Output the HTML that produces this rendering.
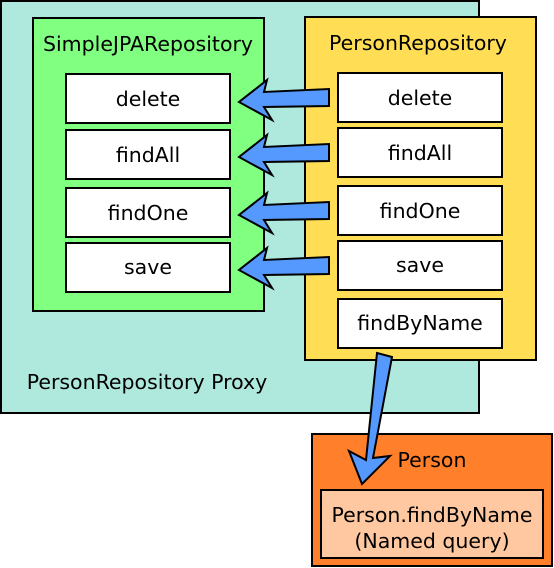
<!DOCTYPE html>
<html><head><style>body{margin:0;background:#fff}svg{display:block}text{font-family:"DejaVu Sans",sans-serif;font-size:20.5px}</style></head><body>
<svg width="554" height="568" xmlns="http://www.w3.org/2000/svg">
<rect x="1" y="1" width="478" height="412" fill="#afe9dd" stroke="#000" stroke-width="2"/>
<rect x="33" y="18" width="231" height="293" fill="#80ff80" stroke="#000" stroke-width="2"/>
<rect x="305" y="17" width="231" height="343" fill="#ffdd55" stroke="#000" stroke-width="2"/>
<text x="148" y="51" text-anchor="middle">SimpleJPARepository</text>
<text x="418" y="50" text-anchor="middle">PersonRepository</text>
<text x="147" y="389" text-anchor="middle">PersonRepository Proxy</text>
<g fill="#fff" stroke="#000" stroke-width="2">
<rect x="66" y="74" width="164" height="49"/><rect x="66" y="130" width="164" height="49"/>
<rect x="66" y="188" width="164" height="49"/><rect x="66" y="243" width="164" height="49"/>
<rect x="338" y="73" width="164" height="49"/><rect x="338" y="128" width="164" height="49"/>
<rect x="338" y="186" width="164" height="49"/><rect x="338" y="241" width="164" height="49"/>
<rect x="338" y="299" width="164" height="49"/>
</g>
<g text-anchor="middle">
<text x="148" y="106">delete</text><text x="148" y="162">findAll</text>
<text x="148" y="220">findOne</text><text x="148" y="274">save</text>
<text x="420" y="105">delete</text><text x="420" y="160">findAll</text>
<text x="420" y="218">findOne</text><text x="420" y="272">save</text>
<text x="420" y="330">findByName</text>
</g>
<g fill="#5599ff" stroke="#000" stroke-width="2" stroke-linejoin="miter">
<path id="a" d="M329,89 L329,106 L264,107 L272,120 L239,102 L267,80 L264,92 Z"/>
<use href="#a" y="55"/><use href="#a" y="113"/><use href="#a" y="168"/>
</g>
<rect x="312" y="434" width="240" height="132" fill="#ff7f2a" stroke="#000" stroke-width="2"/>
<rect x="321" y="490" width="222" height="68" fill="#ffc8a0" stroke="#000" stroke-width="2"/>
<text x="432" y="467" text-anchor="middle">Person</text>
<text x="432" y="522" text-anchor="middle">Person.findByName</text>
<text x="432" y="548" text-anchor="middle">(Named query)</text>
<path d="M377,353 L392,357 L373,458 L390,456 L362,484 L349,451 L366,460 Z" fill="#5599ff" stroke="#000" stroke-width="2"/>
</svg>
</body></html>
